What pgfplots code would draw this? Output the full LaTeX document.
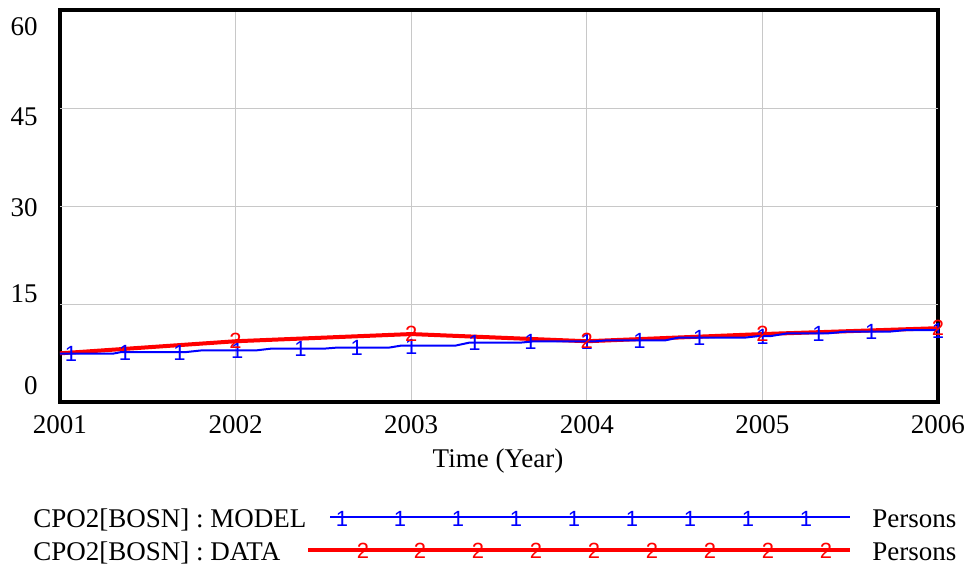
\documentclass[border=0pt]{standalone}
\usepackage{fontspec}
\setmainfont{Liberation Serif}
\newfontfamily\markfont{Liberation Sans}
\usepackage{pgfplots}
\pgfplotsset{compat=1.18}
\definecolor{gridgray}{RGB}{200,200,200}
\newcommand{\mk}[2]{{\markfont\fontsize{11}{11}\selectfont\textcolor{#1}{#2}}}
\begin{document}
\fontsize{13.5}{16}\selectfont
\begin{tikzpicture}
\begin{axis}[
  scale only axis, width=439pt, height=196pt,
  xmin=2001, xmax=2006, ymin=0, ymax=60,
  axis line style={line width=1.6pt},
  major tick length=0pt,
  /pgf/number format/assume math mode=true,
  xtick={2001,2002,2003,2004,2005,2006},
  xticklabels={2001,2002,2003,2004,2005,2006},
  xticklabel style={yshift=-2pt},
  xmajorgrids=true,
  ytick={2.45,16.5,29.8,43.6,57.4},
  yticklabels={0,15,30,45,60},
  yticklabel style={xshift=-6.5pt},
  extra y ticks={15,30,45},
  extra y tick labels={},
  extra y tick style={ymajorgrids=true, major tick length=0pt},
  grid style={gridgray, line width=0.5pt},
  clip=false,
]
\addplot[red, line width=2pt] coordinates {
 (2001,7.45) (2002,9.3) (2003,10.4) (2004,9.3) (2005,10.4) (2006,11.3)};
\addplot[blue, line width=1pt] coordinates {
 (2001.000,7.39) (2001.30,7.39) (2001.35,7.65) (2001.72,7.65) (2001.81,7.91)
 (2002.12,7.91) (2002.20,8.16) (2002.50,8.16) (2002.57,8.31) (2002.87,8.31)
 (2002.94,8.62) (2003.25,8.62) (2003.33,9.08) (2003.62,9.08) (2003.70,9.29)
 (2004.05,9.29) (2004.12,9.45) (2004.45,9.45) (2004.52,9.85) (2004.90,9.85)
 (2004.98,10.1) (2005.05,10.1) (2005.14,10.5) (2005.37,10.5) (2005.47,10.76)
 (2005.72,10.76) (2005.81,11.0) (2006,11.0)};
\addplot[only marks, blue, mark=text, text mark as node=true,
  text mark={\mk{blue}{1}}] coordinates {
 (2001.063,7.3) (2001.37,7.55) (2001.68,7.55) (2002.01,7.8) (2002.37,8.05)
 (2002.69,8.2) (2003.0,8.5) (2003.36,8.97) (2003.68,9.15) (2004.0,9.18)
 (2004.30,9.35) (2004.64,9.75) (2005.0,10.0) (2005.32,10.4) (2005.62,10.65)
 (2006.0,10.9)};
\addplot[only marks, red, mark=text, text mark as node=true,
  text mark={\mk{red}{2}}] coordinates {
 (2002,9.3) (2003,10.4) (2004,9.3) (2005,10.4) (2006,11.3)};
\end{axis}
\begin{axis}[
  scale only axis, width=439pt, height=196pt,
  xmin=60, xmax=938, ymin=10, ymax=402, y dir=reverse,
  hide axis, clip=false,
]
\addplot[blue, line width=1pt] coordinates {(330,517) (850,517)};
\addplot[only marks, blue, mark=text, text mark as node=true,
  text mark={\mk{blue}{1}}] coordinates {
 (342,518.5) (400,518.5) (458,518.5) (516,518.5) (574,518.5) (632,518.5) (690,518.5) (748,518.5) (806,518.5)};
\addplot[red, line width=2pt] coordinates {(308,550) (850,550)};
\addplot[only marks, red, mark=text, text mark as node=true,
  text mark={\mk{red}{2}}] coordinates {
 (363,551) (420,551) (478,551) (536,551) (594,551) (652,551) (710,551) (768,551) (826,551)};
\node[anchor=base west, inner sep=0pt] at (axis cs:33,527) {CPO2[BOSN] : MODEL};
\node[anchor=base west, inner sep=0pt] at (axis cs:33,560) {CPO2[BOSN] : DATA};
\node[anchor=base west, inner sep=0pt] at (axis cs:872,527) {Persons};
\node[anchor=base west, inner sep=0pt] at (axis cs:872,560) {Persons};
\node[anchor=base, inner sep=0pt] at (axis cs:498,467) {Time (Year)};
\end{axis}
\pgfresetboundingbox
\path (-30pt,-83.5pt) rectangle (455.5pt,201pt);
\end{tikzpicture}
\end{document}
